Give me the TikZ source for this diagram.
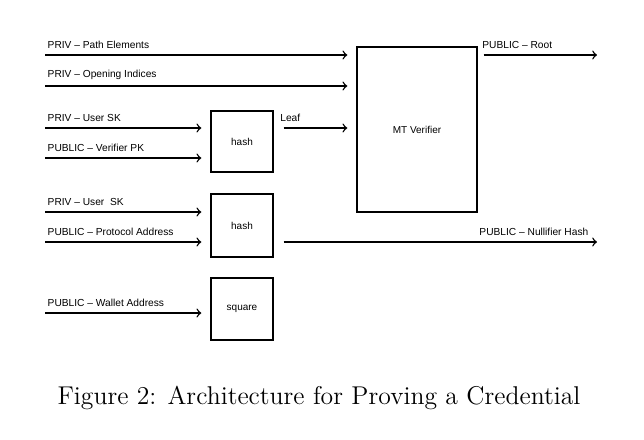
\documentclass[tikz,border=0pt]{standalone}
\usepackage{fontspec}
\setsansfont{Liberation Sans}
\usetikzlibrary{positioning}
\tikzset{
  blk/.style={draw, line width=0.7pt, minimum width=31pt, inner sep=0pt,
    font=\sffamily\fontsize{5}{6}\selectfont},
  lbl/.style={font=\sffamily\fontsize{5.1}{6}\selectfont, inner sep=1pt, yshift=2pt},
  wire/.style={->, line width=0.7pt}
}
\begin{document}
\begin{tikzpicture}[x=0.5pt, y=-0.5pt]
  \useasboundingbox (0,0) rectangle (644,440);
  % boxes
  \node[blk, minimum height=30.5pt] (hashA) at (242,141.5) {hash};
  \node[blk, minimum height=31.5pt] (hashB) at (242,225.5) {hash};
  \node[blk, minimum height=31pt] (sq) at (242,309) {square};
  \node[blk, minimum width=60pt, minimum height=82.5pt] (mt) at (417,129.5) {MT Verifier};
  % inputs
  \coordinate (inPE) at (45,55);
  \coordinate (inOI) at (45,86);
  \coordinate (inSK) at (45,128);
  \coordinate (inPK) at (45,158);
  \coordinate (inSKb) at (45,212);
  \coordinate (inPA) at (45,242);
  \coordinate (inWA) at (45,313);
  \coordinate (outR) at (597,55);
  \coordinate (outN) at (597,242);
  \draw[wire, shorten >=4.5pt] (inPE) -- (inPE -| mt.west) node[lbl, pos=0, above right] (tPE) {PRIV -- Path Elements};
  \draw[wire, shorten >=4.5pt] (inOI) -- (inOI -| mt.west) node[lbl, pos=0, above right] (tOI) {PRIV -- Opening Indices};
  \draw[wire, shorten >=4.5pt] (inSK) -- (inSK -| hashA.west) node[lbl, pos=0, above right] (tSK) {PRIV -- User SK};
  \draw[wire, shorten >=4.5pt] (inPK) -- (inPK -| hashA.west) node[lbl, pos=0, above right] (tPK) {PUBLIC -- Verifier PK};
  \draw[wire, shorten >=4.5pt] (inSKb) -- (inSKb -| hashB.west) node[lbl, pos=0, above right] (tSKb) {PRIV -- User\ \ SK};
  \draw[wire, shorten >=4.5pt] (inPA) -- (inPA -| hashB.west) node[lbl, pos=0, above right] (tPA) {PUBLIC -- Protocol Address};
  \draw[wire, shorten >=4.5pt] (inWA) -- (inWA -| sq.west) node[lbl, pos=0, above right] (tWA) {PUBLIC -- Wallet Address};
  % outputs
  \draw[wire, shorten <=5pt, shorten >=4.5pt] (inSK -| hashA.east) -- (inSK -| mt.west) node[lbl, pos=0, above right, xshift=2pt] (tLeaf) {Leaf};
  \draw[wire, shorten <=3pt] (outR -| mt.east) -- (outR) node[lbl, pos=0, above right, xshift=1pt] (tR) {PUBLIC -- Root};
  \draw[wire, shorten <=5pt] (outN -| hashB.east) -- (outN) node[lbl, pos=1, above left, xshift=-3pt] (tN) {PUBLIC -- Nullifier Hash};
  % caption
  \node (cap) at (319,398) {\fontsize{12.85}{15}\selectfont Figure 2: Architecture for Proving a Credential};
\end{tikzpicture}
\end{document}
